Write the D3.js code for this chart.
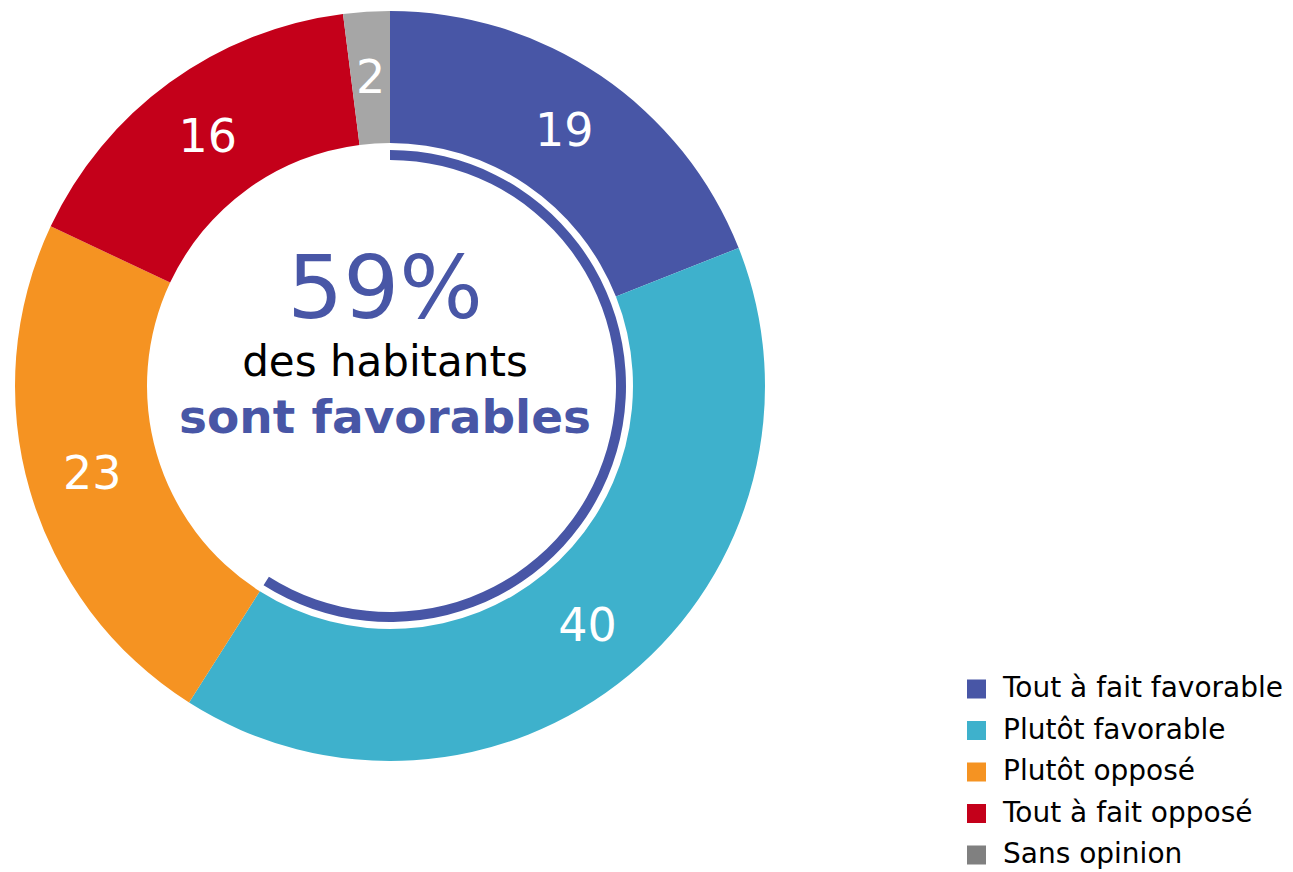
<!DOCTYPE html>
<html><head><meta charset="utf-8">
<script src="https://cdn.jsdelivr.net/npm/d3@7"></script>
<style>body{margin:0;background:#fff;}svg{display:block;}</style>
</head><body>
<svg id="c" width="1293" height="872"></svg>
<script>
const categories = ["Tout à fait favorable","Plutôt favorable","Plutôt opposé","Tout à fait opposé","Sans opinion"];
const values = [19, 40, 23, 16, 2];
const colors = ["#4856a6","#3eb1cc","#f59322","#c4001a","#a6a6a6"];
const legendColors = ["#4856a6","#3eb1cc","#f59322","#c4001a","#808080"];
const favorableShare = 59;
const centerLines = ["59%","des habitants","sont favorables"];

const svg = d3.select("#c");
const font = "Verdana, 'DejaVu Sans', sans-serif";
const cx = 390, cy = 386, rOuter = 375, rInner = 243;
const g = svg.append("g").attr("transform", `translate(${cx},${cy})`);

const pie = d3.pie().sort(null).value(d => d);
const arcs = pie(values);
const arc = d3.arc().innerRadius(rInner).outerRadius(rOuter);
g.selectAll("path.slice").data(arcs).enter().append("path")
  .attr("class","slice").attr("d", arc).attr("fill", (d,i) => colors[i]);

const labelArc = d3.arc().innerRadius(310).outerRadius(310);
g.selectAll("text.lbl").data(arcs).enter().append("text")
  .attr("class","lbl")
  .attr("transform", d => `translate(${labelArc.centroid(d)})`)
  .attr("text-anchor","middle").attr("dy","0.36em")
  .attr("font-family", font).attr("font-size", 46).attr("fill","#fff")
  .text(d => d.data);

// inner indicator arc for favorable share
const angle = d3.scaleLinear().domain([0,100]).range([0, 2*Math.PI]);
g.append("path")
  .attr("d", d3.arc().innerRadius(226).outerRadius(236).startAngle(angle(0)).endAngle(angle(favorableShare))())
  .attr("fill", colors[0]);

// center text
g.append("text").attr("x",-5).attr("y",-68).attr("text-anchor","middle")
  .attr("font-family", font).attr("font-size", 88).attr("fill", colors[0]).text(centerLines[0]);
g.append("text").attr("x",-5).attr("y",-10).attr("text-anchor","middle")
  .attr("font-family", font).attr("font-size", 42).attr("fill", "#000").text(centerLines[1]);
g.append("text").attr("x",-5).attr("y",47).attr("text-anchor","middle")
  .attr("font-family", font).attr("font-size", 47).attr("font-weight","bold").attr("fill", colors[0]).text(centerLines[2]);

// legend
const ly = d3.scalePoint().domain(categories).range([689, 855]);
const leg = svg.append("g");
categories.forEach((c,i) => {
  leg.append("rect").attr("x",967).attr("y", ly(c)-9.5).attr("width",19).attr("height",19).attr("fill", legendColors[i]);
  leg.append("text").attr("x",1003).attr("y", ly(c)).attr("dy","0.3em")
    .attr("font-family", font).attr("font-size", 28).attr("fill","#000").text(c);
});
</script>
</body></html>
